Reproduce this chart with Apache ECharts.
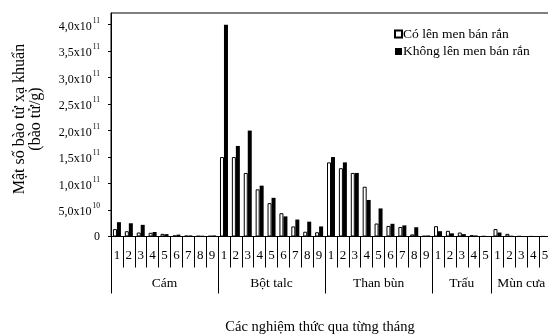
<!DOCTYPE html>
<html>
<head>
<meta charset="utf-8">
<script src="https://cdn.jsdelivr.net/npm/echarts@6/dist/echarts.min.js"></script>
<style>html,body{margin:0;padding:0;background:#fff;}#c{width:548px;height:334px;}</style>
</head>
<body>
<div id="c"></div>
<script>
// ---- data ----
const monthLabels = ['1','2','3','4','5','6','7','8','9',
                     '1','2','3','4','5','6','7','8','9',
                     '1','2','3','4','5','6','7','8','9',
                     '1','2','3','4','5',
                     '1','2','3','4','5'];
const groupNames = ['Cám','Bột talc','Than bùn','Trấu','Mùn cưa'];
const groupSizes = [9, 9, 9, 5, 5];
const seriesNames = ['Có lên men bán rắn','Không lên men bán rắn'];
const coLenMen = [
  1.4e10, 1.0e10, 0.75e10, 0.7e10, 0.5e10, 0.2e10, 0.15e10, 0.1e10, 0.1e10,
  1.5e11, 1.5e11, 1.2e11, 0.89e11, 0.63e11, 0.44e11, 0.19e11, 0.09e11, 0.08e11,
  1.4e11, 1.29e11, 1.2e11, 0.94e11, 0.245e11, 0.2e11, 0.18e11, 0.04e11, 0.01e11,
  1.95e10, 1.07e10, 0.75e10, 0.25e10, 0.05e10,
  1.4e10, 0.5e10, 0.05e10, 0.02e10, 0.02e10
];
const khongLenMen = [
  2.7e10, 2.5e10, 2.2e10, 0.85e10, 0.45e10, 0.35e10, 0.2e10, 0.15e10, 0.2e10,
  4.0e11, 1.71e11, 2.0e11, 0.96e11, 0.73e11, 0.38e11, 0.32e11, 0.28e11, 0.19e11,
  1.5e11, 1.4e11, 1.2e11, 0.69e11, 0.53e11, 0.24e11, 0.21e11, 0.175e11, 0.02e11,
  1.0e10, 0.6e10, 0.45e10, 0.2e10, 0.05e10,
  0.75e10, 0.15e10, 0.02e10, 0.02e10, 0.02e10
];
const yTickValues = [0, 5e10, 1e11, 1.5e11, 2e11, 2.5e11, 3e11, 3.5e11, 4e11];
const yTickMantissa = ['0', '5,0', '1,0', '1,5', '2,0', '2,5', '3,0', '3,5', '4,0'];
const yTickExponent = ['', '10', '11', '11', '11', '11', '11', '11', '11'];
const yTitle = 'Mật số bào tử xạ khuẩn\n(bào tử/g)';
const xTitle = 'Các nghiệm thức qua từng tháng';

// ---- derived layout helpers ----
const boundaries = [];
const groupAxisLabels = monthLabels.map(() => '');
let start = 0;
groupSizes.forEach((n, i) => {
  boundaries.push(start);
  groupAxisLabels[start + Math.floor(n / 2)] = groupNames[i];
  start += n;
});
boundaries.push(start);

const FONT = '"Liberation Serif", "DejaVu Serif", serif';
const chart = echarts.init(document.getElementById('c'), null, {renderer: 'canvas'});
chart.setOption({
  animation: false,
  textStyle: {fontFamily: FONT, color: '#000'},
  grid: {left: 111, top: 13, width: 440, height: 223.5, show: true,
         borderColor: '#000', borderWidth: 1, containLabel: false, outerBoundsMode: 'none'},
  legend: {
    orient: 'vertical', left: 389, top: 22, itemWidth: 7, itemHeight: 7, itemGap: 3.5,
    icon: 'rect', data: seriesNames,
    textStyle: {fontFamily: FONT, fontSize: 13.5, color: '#000', padding: [0,0,0,-4]}
  },
  xAxis: [{
    type: 'category', data: monthLabels, position: 'bottom', offset: 0,
    axisLine: {lineStyle: {color: '#000', width: 1}},
    axisTick: {show: true, interval: 0, length: 31, lineStyle: {color: '#000'}},
    axisLabel: {interval: 0, margin: 13, fontFamily: FONT, fontSize: 13, color: '#000'}
  }, {
    type: 'category', data: groupAxisLabels, position: 'bottom', offset: 0,
    axisLine: {show: false},
    axisTick: {show: true, length: 57, lineStyle: {color: '#000'},
               interval: (idx) => boundaries.indexOf(idx) >= 0},
    axisLabel: {interval: 0, margin: 40, fontFamily: FONT, fontSize: 13.5, color: '#000'}
  }],
  yAxis: {
    type: 'value', min: 0, max: 4.22e11,
    splitLine: {show: false},
    axisLine: {show: true, lineStyle: {color: '#000'}},
    axisTick: {show: true, length: 3, lineStyle: {color: '#000'}, customValues: yTickValues},
    axisLabel: {
      customValues: yTickValues, margin: 11, fontFamily: FONT, color: '#000',
      formatter: (v) => {
        const i = yTickValues.indexOf(v);
        if (i <= 0) return '{m|0}';
        return '{m|' + yTickMantissa[i] + 'x10}{s|' + yTickExponent[i] + '}';
      },
      rich: {
        m: {fontSize: 12, fontFamily: FONT, color: '#000', verticalAlign: 'bottom'},
        s: {fontSize: 7.5, fontFamily: FONT, color: '#000', verticalAlign: 'bottom', padding: [0,0,8,1]}
      }
    }
  },
  series: [{
    name: seriesNames[0], type: 'bar', xAxisIndex: 0, data: coLenMen,
    barWidth: 4, barGap: '0%',
    itemStyle: {color: '#fff', borderColor: '#000', borderWidth: 1}
  }, {
    name: seriesNames[1], type: 'bar', xAxisIndex: 0, data: khongLenMen,
    barWidth: 4, barGap: '0%',
    itemStyle: {color: '#000'}
  }],
  graphic: [{
    type: 'text', x: 28, y: 119, rotation: Math.PI / 2,
    style: {text: yTitle, font: '16px ' + FONT, fill: '#000', align: 'center', verticalAlign: 'middle', lineHeight: 16}
  }, {
    type: 'text', x: 320, y: 327,
    style: {text: xTitle, font: '14.5px ' + FONT, fill: '#000', align: 'center', verticalAlign: 'middle'}
  }]
});
</script>
</body>
</html>
